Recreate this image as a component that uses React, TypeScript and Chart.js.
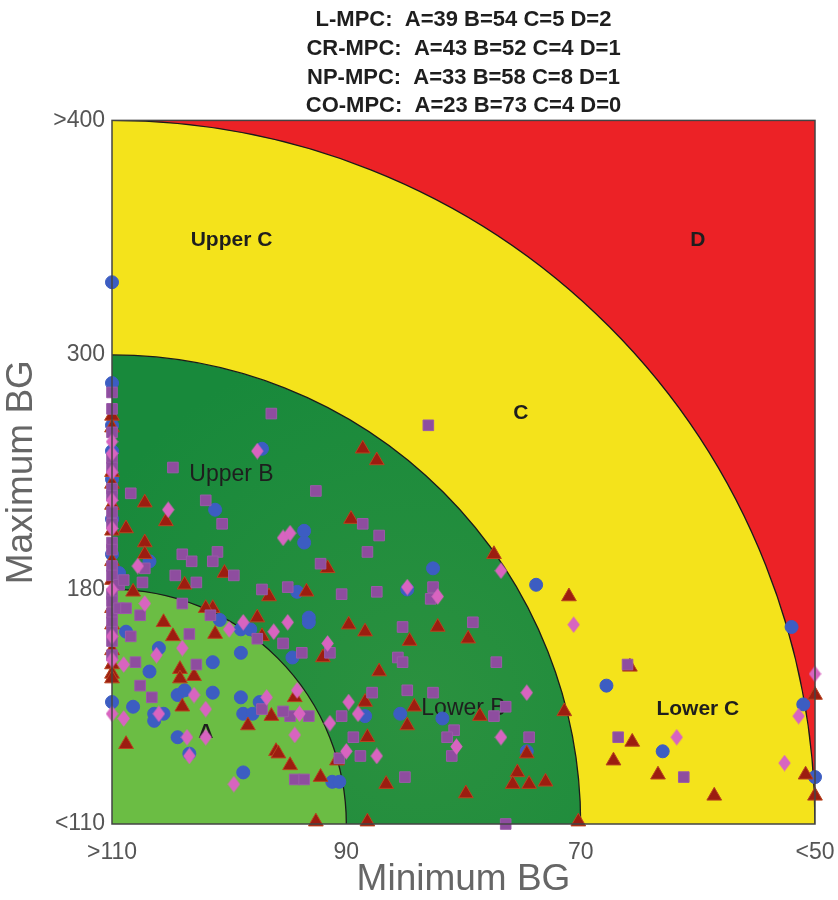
import React, { useEffect, useRef } from 'react';
import { Chart, registerables } from 'chart.js';

Chart.register(...registerables);

// ---- text / ticks ----
const titleLines = [
  'L-MPC:  A=39 B=54 C=5 D=2',
  'CR-MPC:  A=43 B=52 C=4 D=1',
  'NP-MPC:  A=33 B=58 C=8 D=1',
  'CO-MPC:  A=23 B=73 C=4 D=0',
];
const xTickLabels = ['>110', '90', '70', '<50'];
const yTickLabels = ['<110', '180', '300', '>400'];
const xAxisTitle = 'Minimum BG';
const yAxisTitle = 'Maximum BG';

// zone boundaries (grid units) and zone labels (grid units)
const zoneRadii = [1, 2, 3];
const zoneLabels: { text: string; x: number; y: number; bold: boolean }[] = [
  { text: 'Upper C', x: 0.51, y: 2.49, bold: true },
  { text: 'D', x: 2.5, y: 2.49, bold: true },
  { text: 'C', x: 1.745, y: 1.75, bold: true },
  { text: 'Upper B', x: 0.51, y: 1.49, bold: false },
  { text: 'Lower B', x: 1.5, y: 0.49, bold: false },
  { text: 'Lower C', x: 2.5, y: 0.49, bold: true },
  { text: 'A', x: 0.4, y: 0.39, bold: true },
];

// ---- series: [minBG grid position, maxBG grid position] ----
const lmpcCircles: [number, number][] = [
  [0, 2.31], [0, 1.88], [0, 1.7], [0, 1.59], [0, 1.47], [0, 1.3], [0, 1.15], [0, 0.52],
  [0.64, 1.6], [0.44, 1.34], [0.82, 1.25], [0.82, 1.2], [0.79, 0.99], [0.16, 1.12], [0.03, 1.07],
  [1.37, 1.09], [1.26, 1.0], [1.81, 1.02], [0.84, 0.88], [0.84, 0.86], [0.77, 0.71], [1.08, 0.46],
  [1.23, 0.47], [1.41, 0.45], [1.77, 0.31], [0.94, 0.18], [0.97, 0.18], [2.9, 0.84], [2.11, 0.59],
  [2.95, 0.51], [2.35, 0.31], [3.0, 0.2], [0.06, 0.82], [0.2, 0.75], [0.16, 0.65], [0.43, 0.69],
  [0.09, 0.5], [0.18, 0.47], [0.18, 0.44], [0.22, 0.47], [0.28, 0.55], [0.31, 0.57], [0.43, 0.56],
  [0.28, 0.37], [0.33, 0.3], [0.46, 0.87], [0.55, 0.83], [0.59, 0.83], [0.55, 0.73], [0.55, 0.54],
  [0.63, 0.52], [0.56, 0.47], [0.6, 0.47], [0.56, 0.22],
];

const crmpcTriangles: [number, number][] = [
  [0, 1.74], [0, 1.69], [0, 1.5], [0, 1.45], [0, 1.36], [0, 1.25], [0, 1.12], [0, 1.04], [0, 0.92],
  [0, 0.85], [0, 0.74], [0, 0.68], [0, 0.64], [0, 0.62],
  [1.07, 1.6], [1.13, 1.55], [1.02, 1.3], [0.92, 1.09], [0.83, 0.99], [1.63, 1.15], [1.95, 0.97],
  [1.39, 0.84], [1.27, 0.78], [1.52, 0.79], [1.14, 0.65], [1.01, 0.85], [1.08, 0.82], [0.9, 0.71],
  [0.78, 0.54], [1.08, 0.52], [1.29, 0.5], [1.26, 0.42], [1.57, 0.46], [1.93, 0.48], [1.09, 0.37],
  [1.77, 0.3], [0.96, 0.27], [0.76, 0.25], [0.89, 0.2], [1.73, 0.22], [1.71, 0.17], [1.78, 0.17],
  [1.85, 0.18], [1.17, 0.17], [1.51, 0.13], [0.87, 0.01], [1.09, 0.01], [1.99, 0.01], [2.21, 0.67],
  [2.22, 0.35], [2.14, 0.27], [2.33, 0.21], [2.57, 0.12], [3.0, 0.55], [2.96, 0.21], [3.0, 0.12],
  [0.43, 0.92], [0.4, 0.92], [0.44, 0.81], [0.62, 0.88], [0.64, 0.8], [0.68, 0.46], [0.58, 0.42],
  [0.7, 0.31], [0.71, 0.3], [0.22, 0.86], [0.26, 0.8], [0.29, 0.66], [0.29, 0.62], [0.35, 0.63],
  [0.3, 0.5], [0.06, 0.34], [0.14, 1.37], [0.23, 1.29], [0.06, 1.26], [0.14, 1.2], [0.14, 1.15],
  [0.31, 1.02], [0.09, 0.99], [0.48, 1.07], [0.67, 0.97],
];

const npmpcDiamonds: [number, number][] = [
  [0, 1.63], [0, 1.58], [0, 1.5], [0, 1.38], [0, 1.26], [0, 1.0], [0, 0.8], [0, 0.7], [0, 0.47],
  [0.62, 1.59], [0.73, 1.22], [0.76, 1.24], [0.24, 1.34], [0.11, 1.1], [0.14, 0.94], [1.26, 1.01],
  [1.39, 0.97], [1.66, 1.08], [1.97, 0.85], [1.77, 0.56], [0.75, 0.86], [0.92, 0.77], [0.79, 0.57],
  [0.8, 0.47], [1.01, 0.52], [1.05, 0.47], [0.93, 0.43], [0.78, 0.38], [1.0, 0.31], [1.13, 0.29],
  [1.47, 0.33], [1.66, 0.37], [0.56, 0.86], [0.5, 0.83], [0.69, 0.82], [0.66, 0.54], [0.4, 0.49],
  [0.4, 0.37], [0.52, 0.17], [0.3, 0.75], [0.19, 0.72], [0.05, 0.68], [0.35, 0.55], [0.05, 0.45],
  [0.2, 0.47], [0.32, 0.37], [0.33, 0.29], [2.41, 0.37], [2.87, 0.26], [2.93, 0.46], [3.0, 0.64],
];

const cocmpcSquares: [number, number][] = [
  [0, 1.84], [0, 1.77], [0, 1.67], [0, 1.56], [0, 1.52], [0, 1.43], [0, 1.4], [0, 1.33], [0, 1.28],
  [0, 1.2], [0, 1.17], [0, 1.1], [0, 1.06], [0, 0.98], [0, 0.95], [0, 0.9], [0, 0.86], [0, 0.82],
  [0, 0.78], [0, 0.72], [0.03, 1.02], [0.05, 1.04], [0.03, 0.92], [0.06, 0.92],
  [1.35, 1.7], [0.87, 1.42], [1.07, 1.28], [1.14, 1.23], [1.09, 1.16], [0.89, 1.11], [0.75, 1.01],
  [0.98, 0.98], [1.13, 0.99], [1.37, 1.01], [1.36, 0.96], [1.54, 0.86], [1.24, 0.84], [1.22, 0.71],
  [1.24, 0.69], [1.64, 0.69], [1.26, 0.57], [1.37, 0.56], [1.11, 0.56], [0.81, 0.73], [0.93, 0.73],
  [0.98, 0.46], [1.63, 0.46], [1.68, 0.5], [1.46, 0.4], [1.43, 0.37], [1.78, 0.37], [1.03, 0.37],
  [1.06, 0.29], [1.45, 0.29], [0.97, 0.28], [1.25, 0.2], [1.68, 0.0], [0.73, 0.77], [0.76, 0.46],
  [0.84, 0.46], [0.78, 0.19], [0.82, 0.19], [0.42, 0.89], [0.62, 0.79], [0.64, 0.49], [0.73, 0.48],
  [0.64, 1.0], [2.2, 0.68], [2.16, 0.37], [2.44, 0.2], [0.12, 0.89], [0.3, 0.94], [0.08, 0.8],
  [0.33, 0.81], [0.1, 0.69], [0.36, 0.68], [0.12, 0.59], [0.17, 0.54], [0.26, 1.52], [0.08, 1.41],
  [0.4, 1.38], [0.47, 1.28], [0.3, 1.15], [0.34, 1.12], [0.45, 1.16], [0.43, 1.12], [0.14, 1.09],
  [0.27, 1.06], [0.13, 1.03], [0.36, 1.03], [0.52, 1.06], [0.68, 1.75],
];

const FONT = "'Liberation Sans', Arial, sans-serif";

function makeDiamond(color: string): HTMLCanvasElement {
  const c = document.createElement('canvas');
  c.width = 13;
  c.height = 17;
  const g = c.getContext('2d')!;
  g.fillStyle = color;
  g.beginPath();
  g.moveTo(6.5, 0.3);
  g.lineTo(12.7, 8.5);
  g.lineTo(6.5, 16.7);
  g.lineTo(0.3, 8.5);
  g.closePath();
  g.fill();
  return c;
}

const zonesPlugin = {
  id: 'cvgaZones',
  beforeDatasetsDraw(chart: any) {
    const { ctx, chartArea: a, scales } = chart;
    const xs = scales.x;
    const ys = scales.y;
    const ox = xs.getPixelForValue(0);
    const oy = ys.getPixelForValue(0);
    const rx = (v: number) => xs.getPixelForValue(v) - ox;
    const ry = (v: number) => oy - ys.getPixelForValue(v);

    ctx.save();
    ctx.beginPath();
    ctx.rect(a.left, a.top, a.right - a.left, a.bottom - a.top);
    ctx.clip();
    ctx.fillStyle = '#ec2226';
    ctx.fillRect(a.left, a.top, a.right - a.left, a.bottom - a.top);

    const outer = [...zoneRadii].reverse();
    outer.forEach((r) => {
      ctx.beginPath();
      ctx.ellipse(ox, oy, rx(r), ry(r), 0, 0, Math.PI * 2);
      if (r === 3) {
        ctx.fillStyle = '#f4e31b';
      } else if (r === 2) {
        const cx = ox + rx(1.3);
        const cy = oy - ry(0.5);
        const grad = ctx.createRadialGradient(cx, cy, 0, cx, cy, rx(1.6));
        grad.addColorStop(0, '#2b913f');
        grad.addColorStop(1, '#18893b');
        ctx.fillStyle = grad;
      } else {
        ctx.fillStyle = '#6bbd44';
      }
      ctx.fill();
      ctx.lineWidth = 1.3;
      ctx.strokeStyle = '#1b1b1b';
      ctx.stroke();
    });
    ctx.restore();

    // zone labels
    ctx.save();
    ctx.fillStyle = '#1e1e1e';
    ctx.textAlign = 'center';
    ctx.textBaseline = 'middle';
    zoneLabels.forEach((l) => {
      ctx.font = l.bold ? `bold 21px ${FONT}` : `23px ${FONT}`;
      ctx.fillText(l.text, xs.getPixelForValue(l.x), ys.getPixelForValue(l.y));
    });
    ctx.restore();
  },
  afterDatasetsDraw(chart: any) {
    const { ctx, chartArea: a } = chart;
    ctx.save();
    ctx.strokeStyle = '#444';
    ctx.lineWidth = 1.5;
    ctx.strokeRect(a.left, a.top, a.right - a.left, a.bottom - a.top);
    ctx.restore();
  },
};

export default function App() {
  const ref = useRef<HTMLCanvasElement>(null);

  useEffect(() => {
    document.body.style.margin = '0';
    const canvas = ref.current!;
    const toPts = (arr: [number, number][]) => arr.map(([x, y]) => ({ x, y }));
    const diamond = makeDiamond('#d864c0');

    const chart = new Chart(canvas, {
      type: 'scatter',
      data: {
        datasets: [
          {
            label: 'NP-MPC',
            data: toPts(npmpcDiamonds),
            pointStyle: diamond as any,
            pointRadius: 8,
            backgroundColor: '#d864c0',
            borderColor: '#d864c0',
            clip: false as any,
          },
          {
            label: 'CO-MPC',
            data: toPts(cocmpcSquares),
            pointStyle: 'rect',
            pointRadius: 7.5,
            backgroundColor: '#8e4d9f',
            borderColor: '#9a5aa8',
            borderWidth: 1,
            clip: false as any,
          },
          {
            label: 'CR-MPC',
            data: toPts(crmpcTriangles),
            pointStyle: 'triangle',
            pointRadius: 8.5,
            backgroundColor: '#9c1d10',
            borderColor: '#b8441e',
            borderWidth: 1,
            clip: false as any,
          },
          {
            label: 'L-MPC',
            data: toPts(lmpcCircles),
            pointStyle: 'circle',
            pointRadius: 6.5,
            backgroundColor: '#3c5dc2',
            borderColor: '#3c5dc2',
            borderWidth: 1,
            clip: false as any,
          },
        ],
      },
      options: {
        responsive: false,
        animation: false,
        layout: { padding: { left: 0, right: 23, top: 0, bottom: 0 } },
        plugins: {
          legend: { display: false },
          tooltip: { enabled: false },
          title: {
            display: true,
            text: titleLines,
            fullSize: false,
            color: '#1e1e1e',
            font: { family: FONT, size: 22, weight: 'bold', lineHeight: 1.3 },
            padding: { top: 6, bottom: 0 },
          },
        },
        scales: {
          x: {
            type: 'linear',
            min: 0,
            max: 3,
            afterBuildTicks: (s: any) => {
              s.ticks = xTickLabels.map((_, i) => ({ value: i }));
            },
            afterFit: (s: any) => {
              s.height = 76;
              s.paddingLeft = 0;
              s.paddingRight = 0;
            },
            ticks: {
              autoSkip: false,
              maxRotation: 0,
              padding: 15,
              color: '#555',
              font: { family: FONT, size: 23 },
              callback: (v: any) => xTickLabels[Math.round(Number(v))],
            },
            grid: { display: false, drawTicks: false },
            border: { display: false },
            title: {
              display: true,
              text: xAxisTitle,
              color: '#666',
              font: { family: FONT, size: 37, lineHeight: 1 },
              padding: { top: 0, bottom: 2 },
            },
          },
          y: {
            type: 'linear',
            min: 0,
            max: 3,
            afterBuildTicks: (s: any) => {
              s.ticks = yTickLabels.map((_, i) => ({ value: i }));
            },
            afterFit: (s: any) => {
              s.width = 112;
              s.paddingTop = 0;
              s.paddingBottom = 0;
            },
            ticks: {
              autoSkip: false,
              padding: 7,
              color: '#555',
              font: { family: FONT, size: 23 },
              callback: (v: any) => yTickLabels[Math.round(Number(v))],
            },
            grid: { display: false, drawTicks: false },
            border: { display: false },
            title: {
              display: true,
              text: yAxisTitle,
              color: '#666',
              font: { family: FONT, size: 37, lineHeight: 1 },
              padding: { top: 3, bottom: 0 },
            },
          },
        },
      },
      plugins: [zonesPlugin],
    });
    return () => chart.destroy();
  }, []);

  return <canvas ref={ref} width={838} height={900} style={{ display: 'block' }} />;
}
